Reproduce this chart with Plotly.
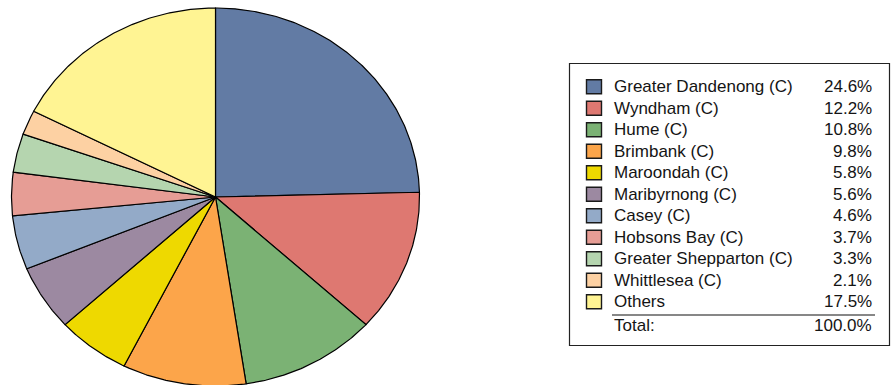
import numpy as np
import plotly.graph_objects as go

# Share of total by local government area
areas = ["Greater Dandenong (C)", "Wyndham (C)", "Hume (C)", "Brimbank (C)",
         "Maroondah (C)", "Maribyrnong (C)", "Casey (C)", "Hobsons Bay (C)",
         "Greater Shepparton (C)", "Whittlesea (C)", "Others"]
shares = [24.6, 12.2, 10.8, 9.8, 5.8, 5.6, 4.6, 3.7, 3.3, 2.1, 17.5]
colors = ["#627BA4", "#DE7871", "#7BB274", "#FCA54A", "#EED900", "#9C89A1",
          "#93AAC8", "#E69D95", "#B5D5AF", "#FDD1A3", "#FFF493"]

W, H = 891, 385
# pie centre and radii in pixels (elliptical pie)
CX, CY, RX, RY = 215.5, 197.0, 204.0, 189.0

fig = go.Figure()

# slices as filled wedges, clockwise from 12 o'clock
total = sum(shares)
start = 0.0
for name, val, col in zip(areas, shares, colors):
    end = start + val / total * 360.0
    n = max(4, int((end - start) / 0.5) + 1)
    ang = np.radians(np.linspace(start, end, n))
    xs = np.concatenate([[0.0], np.sin(ang), [0.0]])
    ys = np.concatenate([[0.0], np.cos(ang), [0.0]])
    fig.add_trace(go.Scatter(
        x=xs, y=ys, mode="lines", fill="toself", fillcolor=col,
        line=dict(color="#000000", width=1.2), name=name,
        hoverinfo="name", showlegend=False))
    start = end

fig.update_xaxes(range=[-CX / RX, (W - CX) / RX], visible=False, fixedrange=True)
fig.update_yaxes(range=[(CY - H) / RY, CY / RY], visible=False, fixedrange=True)


def px(x):
    return x / W


def py(y):
    return 1 - y / H


shapes = []
annotations = []

# legend frame
shapes.append(dict(type="rect", xref="paper", yref="paper",
                   x0=px(569.5), x1=px(889.5), y0=py(63.5), y1=py(345.5),
                   line=dict(color="#222222", width=1.2), fillcolor="rgba(0,0,0,0)"))

FONT = dict(family="Arial, Liberation Sans, sans-serif", size=17, color="#141414")
row0, step = 86.7, 21.5
for i, (name, val, col) in enumerate(zip(areas, shares, colors)):
    yc = row0 + i * step
    shapes.append(dict(type="rect", xref="paper", yref="paper",
                       x0=px(586.5), x1=px(601.5), y0=py(yc + 7), y1=py(yc - 7),
                       line=dict(color="#1a1a1a", width=1.4), fillcolor=col))
    annotations.append(dict(x=px(612), y=py(yc), xref="paper", yref="paper",
                            text=name, showarrow=False, xanchor="left",
                            yanchor="middle", font=FONT))
    annotations.append(dict(x=px(874), y=py(yc), xref="paper", yref="paper",
                            text=f"{val:.1f}%", showarrow=False, xanchor="right",
                            yanchor="middle", font=FONT))

# total row
shapes.append(dict(type="line", xref="paper", yref="paper",
                   x0=px(612), x1=px(875), y0=py(315), y1=py(315),
                   line=dict(color="#111111", width=1.2)))
ytot = row0 + len(areas) * step + 2
annotations.append(dict(x=px(612), y=py(ytot), xref="paper", yref="paper",
                        text="Total:", showarrow=False, xanchor="left",
                        yanchor="middle", font=FONT))
annotations.append(dict(x=px(874), y=py(ytot), xref="paper", yref="paper",
                        text=f"{total:.1f}%", showarrow=False, xanchor="right",
                        yanchor="middle", font=FONT))

fig.update_layout(width=W, height=H, margin=dict(l=0, r=0, t=0, b=0),
                  paper_bgcolor="white", plot_bgcolor="white",
                  shapes=shapes, annotations=annotations, showlegend=False)

fig.write_html("out.html", config={"displayModeBar": False})
